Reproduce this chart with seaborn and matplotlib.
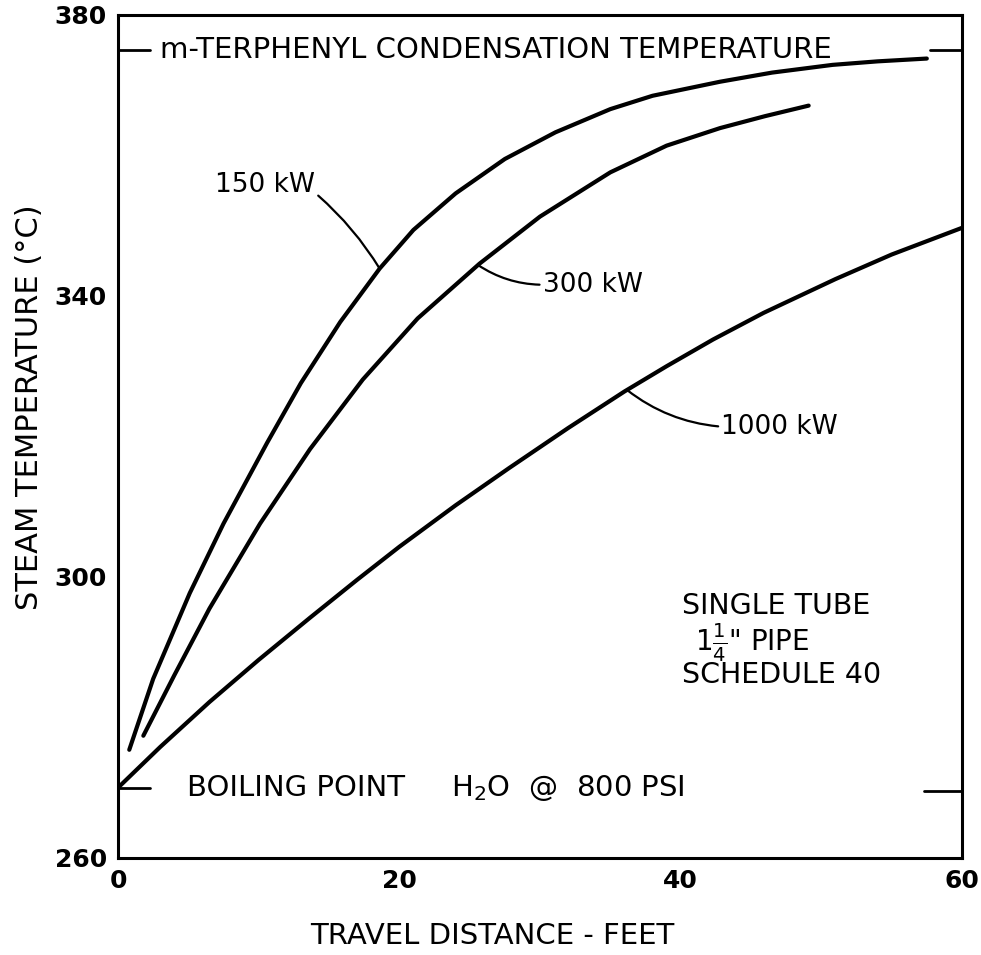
import matplotlib
matplotlib.use("Agg")
import matplotlib.pyplot as plt
import seaborn as sns
import pandas as pd

# Steam temperature vs. travel distance
dist_150 = [0.8, 2.5, 5.1, 7.5, 10.6, 13.0, 15.8, 18.6, 21.0, 24.0, 27.5, 31.1,
            35.0, 38.0, 42.8, 46.5, 50.8, 54.0, 57.5]
temp_150 = [275.4, 285.5, 297.7, 307.6, 319.1, 327.6, 336.3, 343.9, 349.4, 354.6,
            359.5, 363.3, 366.6, 368.5, 370.5, 371.8, 372.9, 373.4, 373.8]

dist_300 = [1.8, 4.0, 6.5, 10.1, 13.65, 17.4, 21.3, 25.7, 30.0, 35.0, 39.0, 42.8,
            46.0, 49.1]
temp_300 = [277.4, 286.0, 295.5, 307.6, 318.2, 328.1, 336.8, 344.6, 351.3, 357.6,
            361.4, 363.9, 365.6, 367.1]

dist_1000 = [0, 3.0, 6.5, 10.0, 13.65, 17.0, 20.0, 24.0, 27.8, 32.0, 36.0, 39.0,
             42.3, 45.9, 51.0, 55.0, 60.0]
temp_1000 = [270.0, 275.8, 282.2, 288.2, 294.2, 299.6, 304.3, 310.2, 315.5, 321.2,
             326.4, 330.0, 333.8, 337.6, 342.4, 345.9, 349.7]

condensation_temp = 375.0   # m-terphenyl
boiling_temp = 270.0        # water @ 800 psi

x_ticks = [0, 20, 40, 60]
y_ticks = [260, 300, 340, 380]

# long-form table for seaborn
df = pd.concat([
    pd.DataFrame({"dist": dist_150, "temp": temp_150, "power": "150 kW"}),
    pd.DataFrame({"dist": dist_300, "temp": temp_300, "power": "300 kW"}),
    pd.DataFrame({"dist": dist_1000, "temp": temp_1000, "power": "1000 kW"}),
])

sns.set_theme(style="white")
plt.rcParams["font.family"] = ["DejaVu Sans"]
plt.rcParams["text.color"] = "black"
plt.rcParams["axes.labelcolor"] = "black"

fig = plt.figure(figsize=(9.81, 9.55), dpi=100)
ax = fig.add_axes([0.1203, 0.1016, 0.8603, 0.8827])

sns.lineplot(data=df, x="dist", y="temp", hue="power", units="power",
             estimator=None, sort=False, palette=["black"] * 3,
             linewidth=3, legend=False, ax=ax)

# short reference marks at both edges
ax.plot([0, 2.3], [condensation_temp] * 2, color="black", lw=2)
ax.plot([57.7, 60], [condensation_temp] * 2, color="black", lw=2)
ax.plot([0, 2.3], [boiling_temp] * 2, color="black", lw=2)
ax.plot([57.3, 60], [boiling_temp - 0.5] * 2, color="black", lw=2)

ax.text(3.0, condensation_temp, "m-TERPHENYL CONDENSATION TEMPERATURE",
        fontsize=21, va="center", ha="left")
ax.text(4.9, boiling_temp, "BOILING POINT", fontsize=21, va="center", ha="left")
ax.text(23.7, boiling_temp, "H$_2$O  @  800 PSI", fontsize=21, va="center", ha="left")

ax.text(40.1, 295.8, "SINGLE TUBE", fontsize=20.5, va="center", ha="left")
ax.text(41.0, 290.6, r'1$\frac{1}{4}$" PIPE', fontsize=20, va="center", ha="left")
ax.text(40.1, 286.1, "SCHEDULE 40", fontsize=20.5, va="center", ha="left")

# curve labels with leader lines
leader = dict(arrowstyle="-", lw=1.6, color="black", shrinkA=0, shrinkB=0)
ax.annotate("150 kW", xy=(18.6, 343.9), xytext=(14.0, 355.8), fontsize=19,
            ha="right", va="center",
            arrowprops=dict(leader, relpos=(1.0, 0.2), connectionstyle="arc3,rad=-0.08"))
ax.annotate("300 kW", xy=(25.6, 344.4), xytext=(30.2, 341.6), fontsize=19,
            ha="left", va="center",
            arrowprops=dict(leader, relpos=(0.0, 0.5), connectionstyle="arc3,rad=-0.15"))
ax.annotate("1000 kW", xy=(36.2, 326.6), xytext=(42.9, 321.4), fontsize=19,
            ha="left", va="center",
            arrowprops=dict(leader, relpos=(0.0, 0.5), connectionstyle="arc3,rad=-0.15"))

ax.set_xlim(0, 60)
ax.set_ylim(260, 380)
ax.set_xticks(x_ticks)
ax.set_yticks(y_ticks)
ax.tick_params(direction="in", length=9, width=2, labelsize=18, pad=8, colors="black")
for lab in ax.get_xticklabels() + ax.get_yticklabels():
    lab.set_fontweight("bold")

for sp in ax.spines.values():
    sp.set_visible(True)
    sp.set_color("black")
    sp.set_linewidth(2.2)

ax.set_xlabel("TRAVEL DISTANCE - FEET", fontsize=21)
ax.set_ylabel("STEAM TEMPERATURE (°C)", fontsize=22)
ax.xaxis.set_label_coords(0.443, -0.076)
ax.yaxis.set_label_coords(-0.088, 0.535)

fig.savefig("out.png", dpi=100, facecolor="white")
